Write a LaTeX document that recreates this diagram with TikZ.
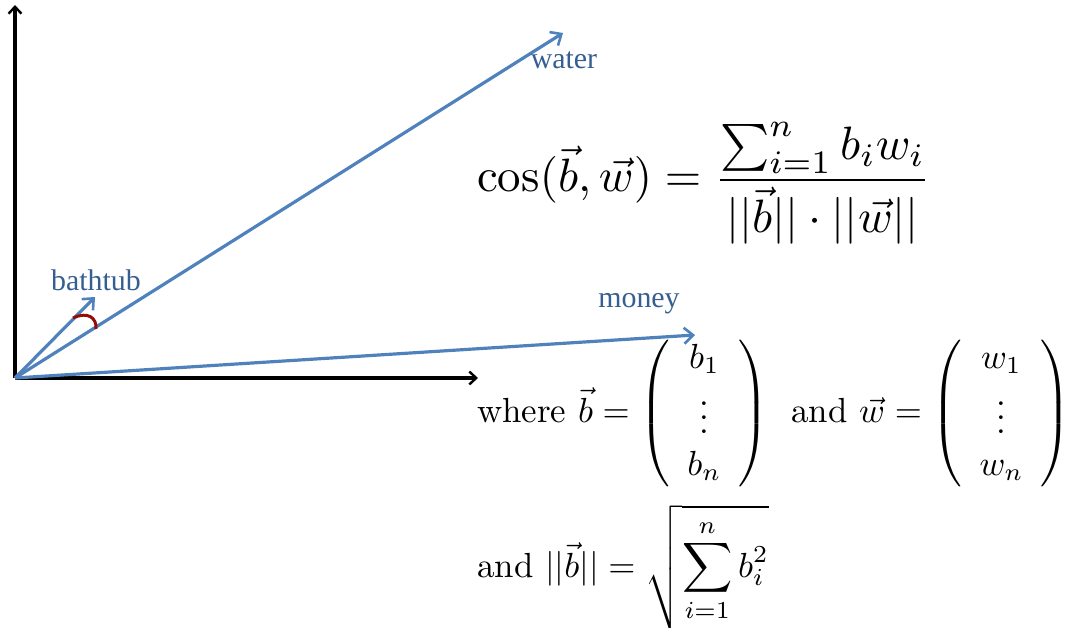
\documentclass[tikz,border=0pt]{standalone}
\usepackage{amsmath}
\usepackage{graphicx}
\usepackage{fontspec}
\newfontfamily\labfont{Liberation Serif}
\usetikzlibrary{arrows.meta}
\definecolor{vecblue}{RGB}{79,129,189}
\definecolor{labblue}{RGB}{54,95,145}
\definecolor{arcred}{RGB}{150,10,10}
\tikzset{
  axis/.style={line width=3.2pt, black, -{Straight Barb[length=7pt,width=13pt,line width=2.4pt]}},
  vec/.style={line width=3.2pt, vecblue, -{Straight Barb[length=9pt,width=16pt,line width=2.6pt]}},
  lab/.style={font=\labfont\fontsize{30}{34}\selectfont, text=labblue, inner sep=0pt},
  formula/.style={inner sep=0pt}
}
\begin{document}
\begin{tikzpicture}[x=1bp,y=-1bp]
\useasboundingbox (0,0) rectangle (1068,628);
\coordinate (O) at (15,378);
\coordinate (Ytop) at (15,5);
\coordinate (Xend) at (478,378);
\coordinate (W) at (563,33);
\coordinate (B) at (95,297);
\coordinate (M) at (695,335);
\draw[axis] (O) -- (Ytop);
\draw[axis] (O) -- (Xend);
\draw[vec] (O) -- (W);
\draw[vec] (O) -- (B);
\draw[vec] (O) -- (M);
\coordinate (A1) at (73,318);
\coordinate (A2) at (96,329);
\draw[arcred, line width=3pt] (A1) .. controls (88,311) and (97,318) .. (A2);
\node[lab] (lw) at (564,60) {water};
\node[lab] (lb) at (96,280) {bathtub};
\node[lab] (lm) at (639,304) {money};
\node[formula, anchor=base west] (f1) at (477,192)
  {\scalebox{4.7}{$\cos(\vec{b},\vec{w}) = \dfrac{\sum_{i=1}^{n} b_i w_i}{||\vec{b}||\cdot||\vec{w}||}$}};
\node[formula, anchor=base west] (f2) at (477,422)
  {\scalebox{3.5}{where $\vec{b} = \left(\begin{array}{c} b_1\\ \vdots\\ b_n\end{array}\right)$\hspace{3pt} and $\vec{w} = \left(\begin{array}{c} w_1\\ \vdots\\ w_n\end{array}\right)$}};
\node[formula, anchor=base west] (f3) at (477,577)
  {\scalebox{3.5}{and $||\vec{b}|| = \sqrt{\displaystyle\sum_{i=1}^{n} b_i^2}$}};
\end{tikzpicture}
\end{document}
